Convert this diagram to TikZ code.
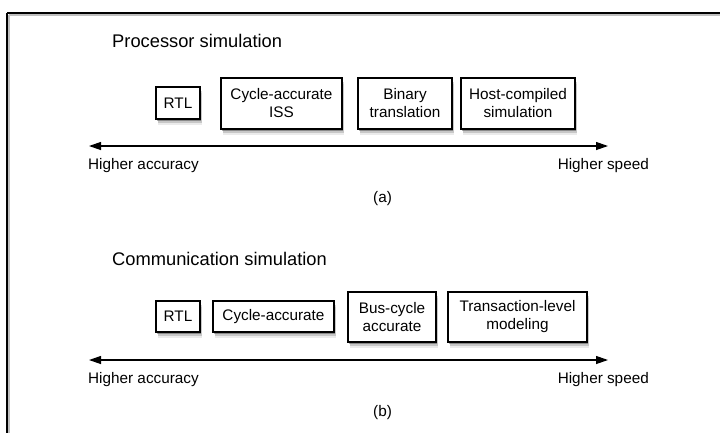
\documentclass[tikz,border=0pt]{standalone}
\usepackage{fontspec}
\setmainfont{Liberation Sans}
\usetikzlibrary{arrows.meta,shadows}
\begin{document}
\begin{tikzpicture}[x=1pt,y=-1pt,
  bodyfont/.style={font=\fontsize{15.3}{18}\selectfont},
  titlefont/.style={font=\fontsize{18.3}{21}\selectfont},
  simbox/.style={draw, line width=1.3pt, fill=white, inner sep=0pt, align=center, bodyfont,
    drop shadow={shadow xshift=2pt, shadow yshift=-6pt, opacity=0.08, fill=black},
    drop shadow={shadow xshift=1.5pt, shadow yshift=-4pt, opacity=0.15, fill=black},
    drop shadow={shadow xshift=1pt, shadow yshift=-2pt, opacity=0.3, fill=black}},
  axis/.style={line width=1.2pt, {Triangle[length=12pt,width=8pt]}-{Triangle[length=12pt,width=8pt]}},
  lbl/.style={bodyfont, inner sep=0pt}
]
\useasboundingbox (0,0) rectangle (720,432);
\fill[white] (0,0) rectangle (720,432);
% frame
\draw[line width=3pt, black!25] (8.5,14.5) -- (740,14.5);
\draw[line width=3pt, black!25] (8.5,14.5) -- (8.5,450);
\draw[line width=1.5pt] (7,13) -- (740,13);
\draw[line width=1.5pt] (7,13) -- (7,450);

% (a) processor simulation
\node[titlefont, anchor=base west, inner sep=0pt] (ta) at (112,47) {Processor simulation};
\node[simbox, minimum width=44pt, minimum height=32pt] (a1) at (178,103) {RTL};
\node[simbox, minimum width=121pt, minimum height=51pt] (a2) at (281.5,103.5) {Cycle-accurate\\ISS};
\node[simbox, minimum width=94pt, minimum height=51pt] (a3) at (405,103.5) {Binary\\translation};
\node[simbox, minimum width=114pt, minimum height=51pt] (a4) at (518,103.5) {Host-compiled\\simulation};
\coordinate (al) at (89,146);
\coordinate (ar) at (608,146);
\draw[axis] (al) -- (ar);
\node[lbl, anchor=base west] (aacc) at (88,169) {Higher accuracy};
\node[lbl, anchor=base east] (aspd) at (649,169) {Higher speed};
\node[lbl, anchor=base] (capa) at (382.5,202) {(a)};

% (b) communication simulation
\node[titlefont, anchor=base west, inner sep=0pt] (tb) at (112,265) {Communication simulation};
\node[simbox, minimum width=44pt, minimum height=31pt] (b1) at (178,316.5) {RTL};
\node[simbox, minimum width=121pt, minimum height=31pt] (b2) at (273.5,316.5) {Cycle-accurate};
\node[simbox, minimum width=88pt, minimum height=50pt] (b3) at (392,317) {Bus-cycle\\accurate};
\node[simbox, minimum width=139pt, minimum height=50pt] (b4) at (517.5,317) {Transaction-level\\modeling};
\coordinate (bl) at (89,360);
\coordinate (br) at (608,360);
\draw[axis] (bl) -- (br);
\node[lbl, anchor=base west] (bacc) at (88,383) {Higher accuracy};
\node[lbl, anchor=base east] (bspd) at (649,383) {Higher speed};
\node[lbl, anchor=base] (capb) at (382.5,416) {(b)};
\end{tikzpicture}
\end{document}
